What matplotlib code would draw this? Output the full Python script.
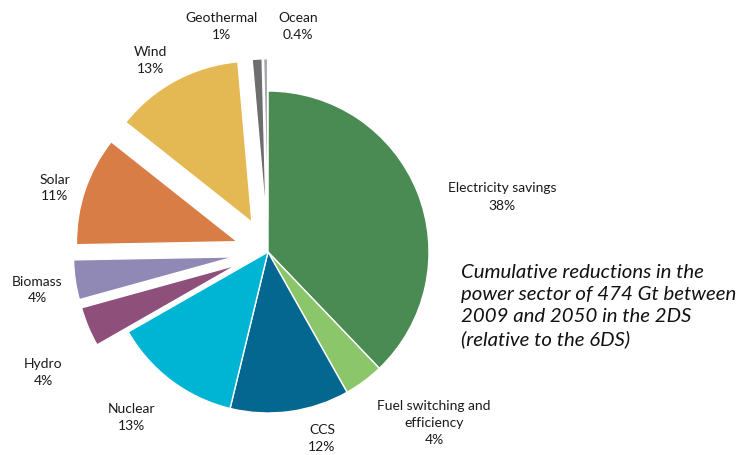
import matplotlib
matplotlib.use("Agg")
import matplotlib.pyplot as plt

# Shares of cumulative CO2 reductions in the power sector (%)
categories = ["Electricity savings", "Fuel switching and\nefficiency", "CCS", "Nuclear",
              "Hydro", "Biomass", "Solar", "Wind", "Geothermal", "Ocean"]
shares = [38, 4, 12, 13, 4, 4, 11, 13, 1, 0.4]
colors = ["#4A8A53", "#8CC66B", "#03678F", "#00B4D4", "#8F4F7B",
          "#9189B5", "#D97D46", "#E4B953", "#6E6E6E", "#A3A3AA"]
explode_frac = [0, 0, 0, 0, 0.21, 0.21, 0.2, 0.21, 0.2, 0.2]

W, H = 742, 456
fig = plt.figure(figsize=(W / 100, H / 100), dpi=100)
ax = fig.add_axes([0, 0, 1, 1])

cx, cy, r = 268, H - 253, 161
# pie offsets are in data units, so scale the fractions by the radius
ax.pie(shares, colors=colors, explode=[f * r for f in explode_frac],
       startangle=90, counterclock=False, center=(cx, cy), radius=r, frame=True,
       wedgeprops=dict(edgecolor="white", linewidth=1.0))
ax.set_xlim(0, W)
ax.set_ylim(0, H)
ax.set_aspect("equal")
ax.axis("off")

# label anchor points (pixel coordinates, top-left origin)
label_pos = [(502, 197), (434, 423), (322, 439), (131, 418), (43, 373),
             (37, 290), (55, 188), (150, 60), (221, 26), (298, 26)]

for name, val, (px, py) in zip(categories, shares, label_pos):
    ax.text(px, H - py, f"{name}\n{val:g}%", ha="center", va="center",
            fontsize=10, family="Lato", color="#1a1a1a", linespacing=1.5)

note = ("Cumulative reductions in the\npower sector of 474 Gt between\n"
        "2009 and 2050 in the 2DS\n(relative to the 6DS)")
ax.text(461, H - 306, note, ha="left", va="center", fontsize=14.7,
        family="Lato", style="italic", color="#111111", linespacing=1.34)

fig.savefig("out.png", dpi=100)
